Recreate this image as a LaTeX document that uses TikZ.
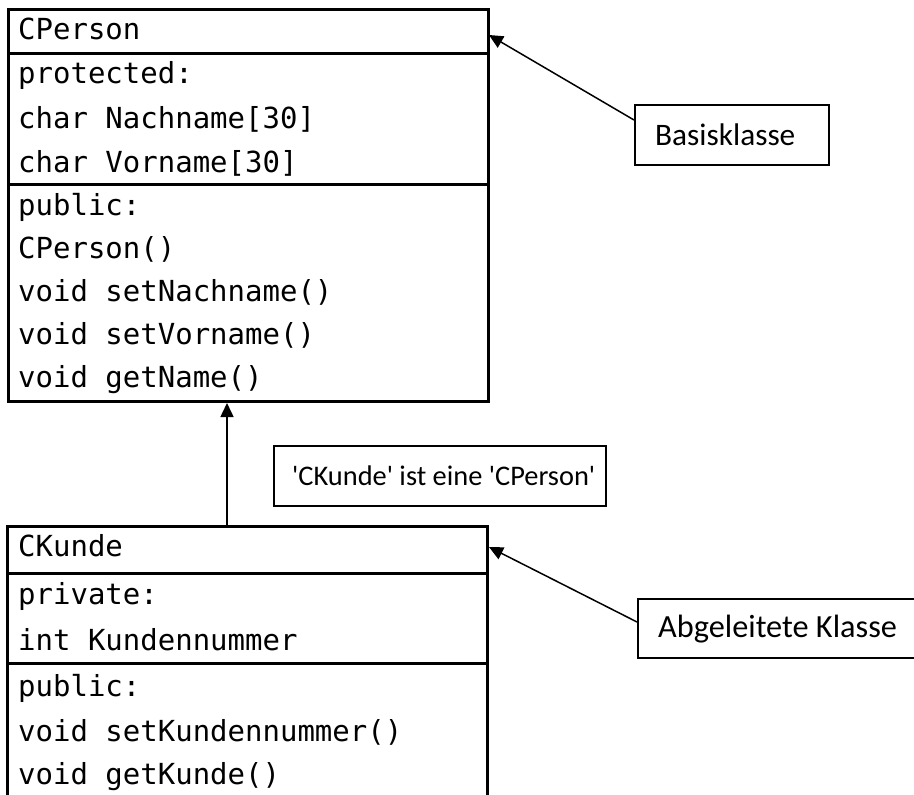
\documentclass[tikz,border=0pt]{standalone}
\usepackage{fontspec}
\setmainfont{Carlito}
\newfontfamily\labfont{Carlito}[Ligatures=TeXOff]
\newfontfamily\monofont{DejaVu Sans Mono}
\usetikzlibrary{arrows.meta,calc}
\begin{document}
\begin{tikzpicture}[x=1pt,y=-1pt,
  frame/.style={line width=3pt},
  classbox/.style={draw, line width=3pt, inner sep=0pt, anchor=north west},
  lbox/.style={draw, line width=1.5pt, inner sep=0pt, anchor=north west},
  ltext/.style={font=\labfont\fontsize{31.3}{36}\selectfont, anchor=base west, inner sep=0pt},
  mtext/.style={font=\monofont\fontsize{29}{34}\selectfont, anchor=base west, inner sep=0pt},
  arr/.style={line width=1.5pt, -{Triangle[length=14pt,width=13pt]}}]
\useasboundingbox (0,0) rectangle (914,795);

% ---- CPerson ----
\node[classbox, minimum width=480pt, minimum height=392pt] (cperson) at (7,8) {};
\draw[frame] (7,53) -- (487,53);
\draw[frame] (7,184) -- (487,184);
\node[mtext] (p0) at (18,39) {CPerson};
\node[mtext] (p1) at (18,83) {protected:};
\node[mtext] (p2) at (18,128) {char Nachname[30]};
\node[mtext] (p3) at (18,172) {char Vorname[30]};
\node[mtext] (p4) at (18,215) {public:};
\node[mtext] (p5) at (18,258) {CPerson()};
\node[mtext] (p6) at (18,301) {void setNachname()};
\node[mtext] (p7) at (18,344) {void setVorname()};
\node[mtext] (p8) at (18,387) {void getName()};

% ---- CKunde ----
\draw[frame] (7,800) -- (7,526) -- (487,526) -- (487,800);
\draw[frame] (7,573) -- (487,573);
\draw[frame] (7,663) -- (487,663);
\node[mtext] (k0) at (18,556) {CKunde};
\node[mtext] (k1) at (18,604) {private:};
\node[mtext] (k2) at (18,650) {int Kundennummer};
\node[mtext] (k3) at (18,696) {public:};
\node[mtext] (k4) at (18,741) {void setKundennummer()};
\node[mtext] (k5) at (18,784) {void getKunde()};

% ---- labels ----
\node[lbox, minimum width=332pt, minimum height=60pt] (isa) at (273,445) {};
\node[ltext, font=\labfont\fontsize{28.4}{34}\selectfont] (isat) at (292,485) {'CKunde' ist eine 'CPerson'};
\node[lbox, minimum width=194pt, minimum height=60pt] (basis) at (634,104) {};
\node[ltext] (basist) at (655,145) {Basisklasse};
\node[lbox, minimum width=300pt, minimum height=59pt] (abg) at (637,598) {};
\node[ltext, font=\labfont\fontsize{32.3}{37}\selectfont] (abgt) at (658,637) {Abgeleitete Klasse};

% ---- connectors ----
\coordinate (ckTop) at (227,526);
\coordinate (cpHead) at (489,35);
\coordinate (ckHead) at (489,547);
\coordinate (basisOut) at (634,120);
\coordinate (abgOut) at (637,622);
\draw[arr] (ckTop) -- (ckTop |- cperson.south);
\draw[arr] (basisOut) -- (cpHead);
\draw[arr] (abgOut) -- (ckHead);
\end{tikzpicture}
\end{document}
